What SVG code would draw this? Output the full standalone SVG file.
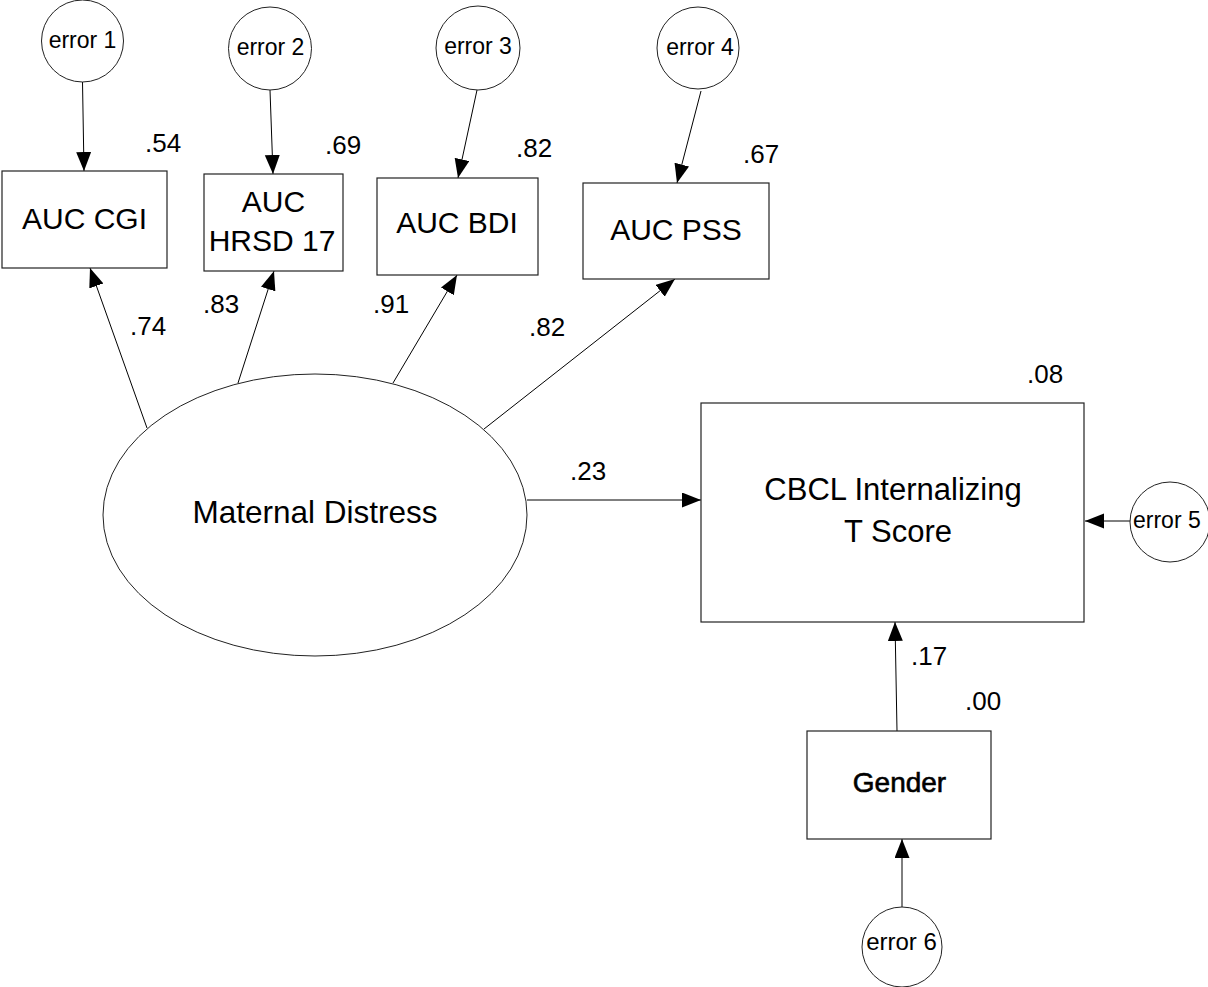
<svg xmlns="http://www.w3.org/2000/svg" width="1208" height="987" viewBox="0 0 1208 987">
<style>
.box{fill:#fff;stroke:#222;stroke-width:1.2}
.circ{fill:#fff;stroke:#222;stroke-width:1}
.lbl{font-family:"Liberation Sans",Arial,sans-serif;font-size:30px;fill:#000;text-anchor:middle}
.err{font-family:"Liberation Sans",Arial,sans-serif;font-size:23px;fill:#000;text-anchor:middle}
.num{font-family:"Liberation Sans",Arial,sans-serif;font-size:26px;fill:#000}
.edge{stroke:#000;stroke-width:1;fill:none;marker-end:url(#ah)}
</style>
<defs>
<marker id="ah" markerUnits="userSpaceOnUse" markerWidth="20" markerHeight="16" refX="19" refY="7.5" orient="auto">
<path d="M0,0 L19,7.5 L0,15 z" fill="#000"/>
</marker>
</defs>
<rect width="1208" height="987" fill="#fff"/>
<g id="connectors">
<line class="edge" x1="82.5" y1="82" x2="84" y2="171"/>
<line class="edge" x1="270" y1="90" x2="273" y2="174"/>
<line class="edge" x1="477" y1="90" x2="458" y2="178"/>
<line class="edge" x1="701" y1="91" x2="677" y2="183"/>
<line class="edge" x1="147" y1="428" x2="90" y2="268"/>
<line class="edge" x1="238" y1="383" x2="274" y2="271"/>
<line class="edge" x1="393" y1="383" x2="457" y2="275"/>
<line class="edge" x1="484" y1="429" x2="675" y2="279"/>
<line class="edge" x1="527" y1="500" x2="701" y2="500"/>
<line class="edge" x1="1130" y1="521" x2="1085" y2="521"/>
<line class="edge" x1="897" y1="731" x2="895" y2="622"/>
<line class="edge" x1="902" y1="907" x2="902" y2="839"/>
</g>
<g id="error1"><circle class="circ" cx="82.5" cy="41" r="41"/><text class="err" x="82.5" y="48">error 1</text></g>
<g id="error2"><circle class="circ" cx="270" cy="48.5" r="41.5"/><text class="err" x="270.5" y="55">error 2</text></g>
<g id="error3"><circle class="circ" cx="478" cy="48" r="42"/><text class="err" x="478" y="54">error 3</text></g>
<g id="error4"><circle class="circ" cx="698" cy="48" r="41"/><text class="err" x="700" y="55">error 4</text></g>
<g id="error5"><circle class="circ" cx="1170" cy="522" r="40"/><text class="err" x="1133" y="528" style="text-anchor:start">error 5</text></g>
<g id="error6"><circle class="circ" cx="902" cy="947" r="40"/><text class="err" x="901.5" y="950" style="font-size:24px">error 6</text></g>
<g id="auc-cgi"><rect class="box" x="2" y="171" width="165" height="97"/><text class="lbl" x="84.5" y="229">AUC CGI</text></g>
<g id="auc-hrsd"><rect class="box" x="204" y="174" width="139" height="97"/><text class="lbl" x="273.5" y="212">AUC</text><text class="lbl" x="272" y="251">HRSD 17</text></g>
<g id="auc-bdi"><rect class="box" x="377" y="178" width="161" height="97"/><text class="lbl" x="457" y="233">AUC BDI</text></g>
<g id="auc-pss"><rect class="box" x="583" y="183" width="186" height="96"/><text class="lbl" x="676" y="240">AUC PSS</text></g>
<g id="maternal-distress"><ellipse class="circ" cx="315" cy="515" rx="212" ry="141"/><text class="lbl" x="315" y="523" style="font-size:31.5px">Maternal Distress</text></g>
<g id="cbcl"><rect class="box" x="701" y="403" width="383" height="219"/><text class="lbl" x="893" y="500" style="font-size:31px">CBCL Internalizing</text><text class="lbl" x="898" y="542" style="font-size:31px">T Score</text></g>
<g id="gender"><rect class="box" x="807" y="731" width="184" height="108"/><text class="lbl" x="899.5" y="792" style="font-size:28px;stroke:#000;stroke-width:0.6">Gender</text></g>
<g id="labels">
<text class="num" x="145" y="152">.54</text>
<text class="num" x="325" y="154">.69</text>
<text class="num" x="516" y="157">.82</text>
<text class="num" x="743" y="163">.67</text>
<text class="num" x="130" y="335">.74</text>
<text class="num" x="203" y="313">.83</text>
<text class="num" x="373" y="313">.91</text>
<text class="num" x="529" y="336">.82</text>
<text class="num" x="570" y="480">.23</text>
<text class="num" x="1027" y="383">.08</text>
<text class="num" x="911" y="665">.17</text>
<text class="num" x="965" y="710">.00</text>
</g>
</svg>
